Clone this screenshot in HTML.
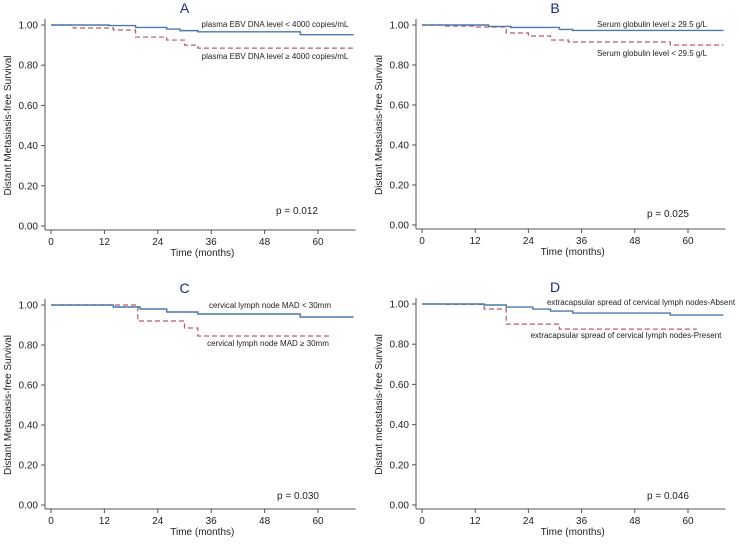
<!DOCTYPE html>
<html><head><meta charset="utf-8"><style>
html,body{margin:0;padding:0;background:#fff;}
svg text{font-family:"Liberation Sans",sans-serif;fill:#222;}
</style></head><body>
<svg id="s" width="739" height="540" xmlns="http://www.w3.org/2000/svg"></svg>
<script>
const S=document.getElementById('s');let h='';
function panel(o){
 const {x0,x60,y1,y0,title,ylab,blue,red,lb,lr,p,px,py}=o;
 const X=m=>x0+m*(x60-x0)/60, Y=s=>y0-(y0-y1)*s;
 const ax=x0-6, ay=y0+4;
 h+=`<line x1="${ax}" y1="${Y(1)-6}" x2="${ax}" y2="${ay}" stroke="#555" stroke-width="1"/>`;
 h+=`<line x1="${ax}" y1="${ay}" x2="${X(68)+2}" y2="${ay}" stroke="#555" stroke-width="1"/>`;
 for(let i=0;i<=5;i++){const v=i*0.2,yy=Y(v);
  h+=`<line x1="${ax-4}" y1="${yy}" x2="${ax}" y2="${yy}" stroke="#555"/>`;
  h+=`<text x="${ax-7}" y="${yy+3.5}" font-size="10" text-anchor="end">${v.toFixed(2)}</text>`;}
 for(let m=0;m<=60;m+=12){const xx=X(m);
  h+=`<line x1="${xx}" y1="${ay}" x2="${xx}" y2="${ay+4}" stroke="#555"/>`;
  h+=`<text x="${xx}" y="${ay+15}" font-size="10" text-anchor="middle">${m}</text>`;}
 h+=`<text x="${(X(0)+X(68))/2}" y="${ay+26}" font-size="10" text-anchor="middle">Time (months)</text>`;
 const cy=(Y(1)+y0)/2;
 h+=`<text transform="translate(${ax-34},${cy}) rotate(-90)" font-size="10" text-anchor="middle">${ylab}</text>`;
 h+=`<text x="${X(30)}" y="${Y(1)-12}" font-size="14" text-anchor="middle" style="fill:#1a2a80">${title}</text>`;
 const path=pts=>{let d=`M${X(pts[0][0])},${Y(pts[0][1])}`;for(let i=1;i<pts.length;i++){d+=`H${X(pts[i][0])}V${Y(pts[i][1])}`;}return d;};
 h+=`<path d="${path(red)}" fill="none" stroke="#b85a6e" stroke-width="1.2" stroke-dasharray="5,3"/>`;
 h+=`<path d="${path(blue)}" fill="none" stroke="#4a78a8" stroke-width="1.4"/>`;
 h+=`<text x="${lb[0]}" y="${lb[1]}" font-size="8" text-anchor="middle">${lb[2]}</text>`;
 h+=`<text x="${lr[0]}" y="${lr[1]}" font-size="8" text-anchor="middle">${lr[2]}</text>`;
 h+=`<text x="${px}" y="${py}" font-size="10">${p}</text>`;
}
panel({x0:51,x60:318,y1:25,y0:226,title:'A',ylab:'Distant Metasiasis-free Survival',
 blue:[[0,1],[13,0.997],[19,0.988],[26,0.98],[29,0.972],[33,0.966],[56,0.952],[68,0.952]],
 red:[[0,1],[5,0.985],[14,0.975],[19,0.94],[26,0.925],[30,0.90],[33,0.885],[68,0.885]],
 lb:[275,27,'plasma EBV DNA level &lt; 4000 copies/mL'],lr:[275,59,'plasma EBV DNA level ≥ 4000 copies/mL'],p:'p = 0.012',px:276,py:214});
panel({x0:422,x60:688,y1:25,y0:225,title:'B',ylab:'Distant Metasiasis-free Survival',
 blue:[[0,1],[15,0.993],[20,0.988],[31,0.978],[34,0.973],[68,0.973]],
 red:[[0,1],[5,0.995],[12,0.99],[19,0.96],[24,0.945],[29,0.925],[33,0.915],[56,0.90],[68,0.90]],
 lb:[652,27,'Serum globulin level ≥ 29.5 g/L'],lr:[652,56,'Serum globulin level &lt; 29.5 g/L'],p:'p = 0.025',px:647,py:217});
panel({x0:51,x60:318,y1:305,y0:505,title:'C',ylab:'Distant Metasiasis-free Survival',
 blue:[[0,1],[14,0.99],[20,0.98],[26,0.965],[33,0.955],[56,0.94],[68,0.94]],
 red:[[0,1],[19.5,0.92],[30,0.885],[33,0.845],[63,0.845]],
 lb:[270,308,'cervical lymph node MAD &lt; 30mm'],lr:[268,346,'cervical lymph node MAD ≥ 30mm'],p:'p = 0.030',px:277,py:499});
panel({x0:422,x60:688,y1:304,y0:505,title:'D',ylab:'Distant metastasis-free Survival',
 blue:[[0,1],[14,0.995],[19,0.985],[25,0.975],[29,0.965],[34,0.955],[56,0.945],[68,0.945]],
 red:[[0,1],[5,0.998],[14,0.975],[19,0.90],[31,0.875],[62,0.875]],
 lb:[641,305,'extracapsular spread of cervical lymph nodes-Absent'],lr:[626,338,'extracapsular spread of cervical lymph nodes-Present'],p:'p = 0.046',px:647,py:499});
S.innerHTML=h;
</script>
</body></html>
